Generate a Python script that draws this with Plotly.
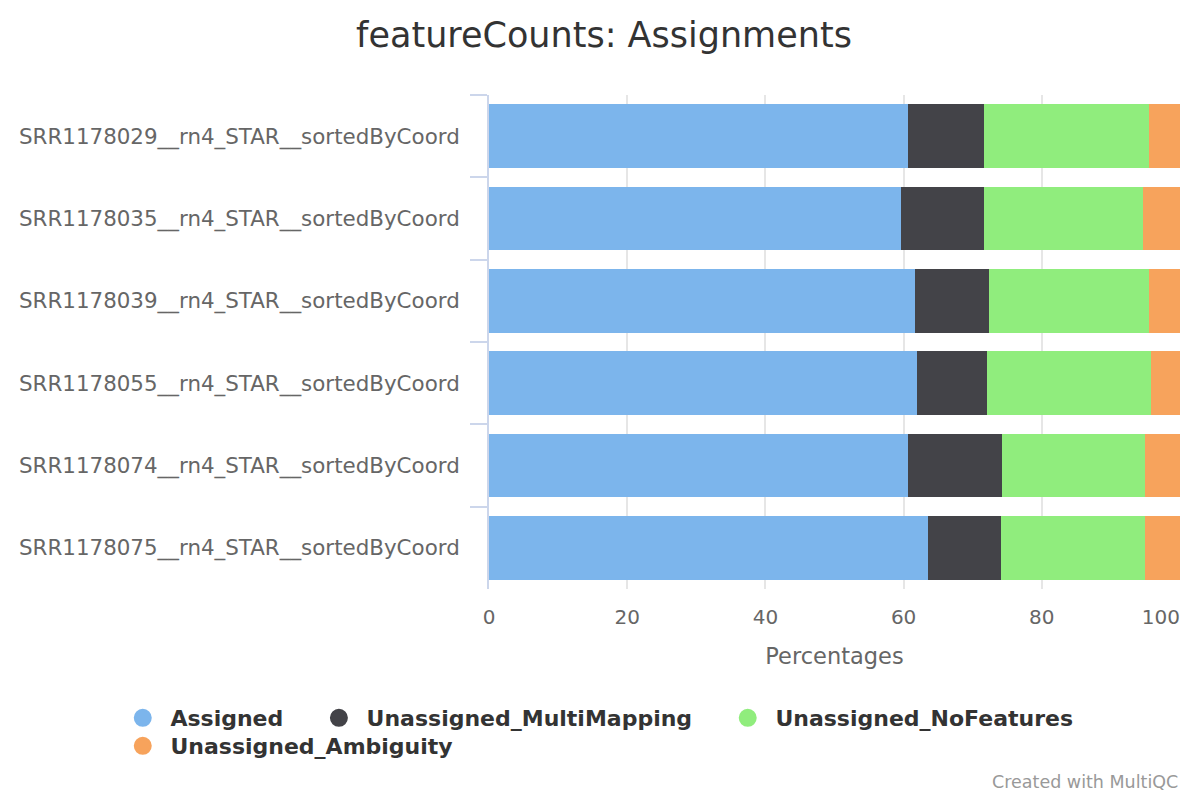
import plotly.graph_objects as go

samples = [
    "SRR1178029__rn4_STAR__sortedByCoord",
    "SRR1178035__rn4_STAR__sortedByCoord",
    "SRR1178039__rn4_STAR__sortedByCoord",
    "SRR1178055__rn4_STAR__sortedByCoord",
    "SRR1178074__rn4_STAR__sortedByCoord",
    "SRR1178075__rn4_STAR__sortedByCoord",
]
series_names = ["Assigned", "Unassigned_MultiMapping", "Unassigned_NoFeatures", "Unassigned_Ambiguity"]
assigned = [60.7, 59.6, 61.6, 61.9, 60.7, 63.6]
multimapping = [11.0, 12.1, 10.7, 10.1, 13.6, 10.5]
nofeatures = [23.8, 22.9, 23.2, 23.8, 20.6, 20.8]
ambiguity = [4.5, 5.4, 4.5, 4.2, 5.1, 5.1]
colors = ["#7cb5ec", "#434348", "#90ed7d", "#f7a35c"]
xticks = [0, 20, 40, 60, 80, 100]
xticklabels = ["0", "20", "40", "60", "80", "100"]

FONT = "DejaVu Sans"
NB = "\u00a0"
fig = go.Figure()
for name, vals, col in zip(series_names, [assigned, multimapping, nofeatures, ambiguity], colors):
    fig.add_trace(go.Bar(
        y=samples, x=vals, name=name, orientation="h",
        marker=dict(color=col, line=dict(width=0)),
        showlegend=False,
    ))
# legend-only circle markers on hidden overlay axes (row 1: first three, row 2: last)
legend_rows = ["legend", "legend", "legend", "legend2"]
for name, col, lg in zip(series_names, colors, legend_rows):
    fig.add_trace(go.Scatter(
        x=[-10], y=[-10], mode="markers", name=NB + name + NB * 4, xaxis="x2", yaxis="y2",
        marker=dict(symbol="circle", size=20, color=col, line=dict(color=col, width=2)),
        showlegend=True, hoverinfo="skip", legend=lg,
    ))

# tick labels: pad the last one so it sits left of the 100 gridline, as in the reference
ticktext = [t + (NB * 6 if t == xticklabels[-1] else "") for t in xticklabels]

legend_font = dict(size=22, color="#333333", family=FONT, weight="bold")
fig.update_layout(
    template="none",
    width=1192, height=792,
    barmode="stack", bargap=0.224,
    plot_bgcolor="white", paper_bgcolor="white",
    margin=dict(l=481, r=20, t=87, b=211, autoexpand=False),
    font=dict(family=FONT, color="#666666"),
    title=dict(text="featureCounts: Assignments", x=0.5, xanchor="center", y=0.966, yanchor="middle",
               xref="container", yref="container",
               font=dict(size=35, color="#333333", family=FONT)),
    xaxis=dict(range=[0, 100], tickvals=xticks, ticktext=ticktext, showgrid=True, gridcolor="#e6e6e6",
               gridwidth=2, zeroline=False, showline=False, ticks="", automargin=False,
               ticklabeloverflow="allow",
               tickfont=dict(size=20, color="#666666"), ticklabelstandoff=14,
               title=dict(text="Percentages", font=dict(size=22.5, color="#666666"), standoff=20)),
    yaxis=dict(autorange="reversed", showgrid=False, zeroline=False, showline=True, automargin=False,
               linecolor="#ccd6eb", linewidth=2, ticks="outside", tickson="boundaries",
               ticklen=17, tickcolor="#ccd6eb", tickwidth=2,
               tickfont=dict(size=21.4, color="#666666"), ticklabelstandoff=23),
    xaxis2=dict(overlaying="x", range=[0, 1], visible=False),
    yaxis2=dict(overlaying="y", range=[0, 1], visible=False),
    legend=dict(orientation="h", x=-0.53, xanchor="left",
                y=-0.2186, yanchor="top", traceorder="normal",
                font=legend_font, itemsizing="trace", tracegroupgap=0, bgcolor="rgba(0,0,0,0)"),
    legend2=dict(orientation="h", x=-0.53, xanchor="left",
                 y=-0.2753, yanchor="top", traceorder="normal",
                 font=legend_font, itemsizing="trace", tracegroupgap=0, bgcolor="rgba(0,0,0,0)"),
)
fig.add_annotation(text="Created with MultiQC", xref="paper", yref="paper", x=1, xanchor="right",
                   y=-0.391, yanchor="middle", showarrow=False,
                   font=dict(size=17.5, color="#999999", family=FONT))
fig.write_html("out.html")
